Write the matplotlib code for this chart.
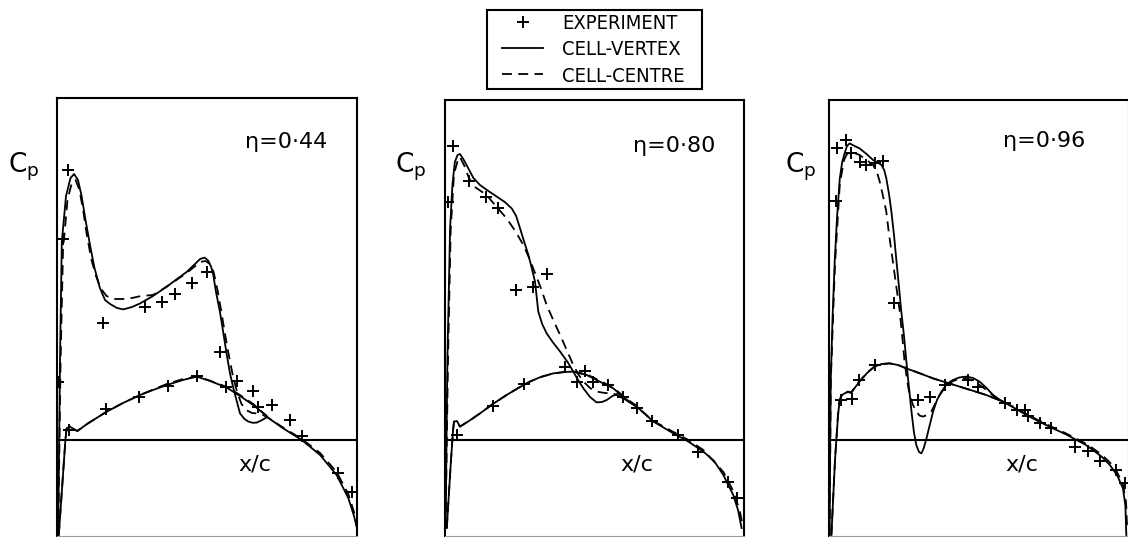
import matplotlib
matplotlib.use("Agg")
import matplotlib.pyplot as plt
from matplotlib import font_manager
from matplotlib.patches import Rectangle

# ---------------- data (x/c , -Cp) ----------------
etas = ["0·44", "0·80", "0·96"]

# eta = 0.44
p1_cv_up_x = [0.004, 0.010, 0.016, 0.030, 0.045, 0.057, 0.070, 0.082, 0.095, 0.110, 0.125, 0.143, 0.160, 0.177, 0.200, 0.221, 0.250, 0.277, 0.320, 0.366, 0.400, 0.432, 0.460, 0.477, 0.492, 0.504, 0.514, 0.521, 0.530, 0.543, 0.555, 0.566, 0.577, 0.588, 0.600, 0.610, 0.625, 0.638, 0.652, 0.666, 0.680, 0.693, 0.700, 0.754, 0.816, 0.877, 0.932, 0.971, 0.990, 1.000]
p1_cv_up_y = [-0.475, 0.40, 0.99, 1.22, 1.31, 1.33, 1.30, 1.22, 1.10, 0.975, 0.86, 0.76, 0.70, 0.68, 0.66, 0.653, 0.665, 0.683, 0.72, 0.767, 0.805, 0.84, 0.88, 0.905, 0.912, 0.897, 0.865, 0.825, 0.74, 0.642, 0.53, 0.425, 0.33, 0.258, 0.19, 0.133, 0.105, 0.092, 0.086, 0.087, 0.097, 0.108, 0.115, 0.058, 0.0, -0.075, -0.175, -0.29, -0.38, -0.44]
p1_cv_lo_x = [0.006, 0.028, 0.032, 0.043, 0.055, 0.068, 0.100, 0.166, 0.220, 0.277, 0.320, 0.366, 0.420, 0.466, 0.510, 0.566, 0.610, 0.654, 0.699]
p1_cv_lo_y = [-0.475, 0.0, 0.058, 0.067, 0.055, 0.045, 0.08, 0.142, 0.185, 0.225, 0.25, 0.275, 0.30, 0.317, 0.295, 0.262, 0.22, 0.175, 0.12]
p1_cc_up_x = [0.004, 0.012, 0.020, 0.035, 0.050, 0.062, 0.075, 0.088, 0.100, 0.115, 0.130, 0.145, 0.165, 0.190, 0.220, 0.250, 0.280, 0.320, 0.366, 0.432, 0.477, 0.495, 0.510, 0.522, 0.535, 0.548, 0.560, 0.572, 0.585, 0.600, 0.615, 0.630, 0.650, 0.666, 0.680, 0.693, 0.700, 0.754, 0.816, 0.877, 0.932, 0.971, 0.990, 1.000]
p1_cc_up_y = [-0.475, 0.40, 0.95, 1.20, 1.29, 1.30, 1.25, 1.14, 1.02, 0.90, 0.82, 0.76, 0.72, 0.705, 0.705, 0.71, 0.72, 0.725, 0.767, 0.835, 0.89, 0.895, 0.88, 0.84, 0.75, 0.64, 0.53, 0.43, 0.33, 0.24, 0.18, 0.15, 0.135, 0.133, 0.13, 0.12, 0.115, 0.062, 0.005, -0.065, -0.16, -0.27, -0.36, -0.44]
p1_cc_lo_x = [0.006, 0.028, 0.032, 0.043, 0.055, 0.068, 0.100, 0.166, 0.220, 0.277, 0.320, 0.366, 0.420, 0.466, 0.510, 0.566, 0.610, 0.654, 0.699]
p1_cc_lo_y = [-0.475, 0.0, 0.058, 0.067, 0.055, 0.045, 0.08, 0.142, 0.185, 0.225, 0.252, 0.28, 0.305, 0.317, 0.297, 0.265, 0.225, 0.18, 0.12]
p1_exp_up_x = [0.021, 0.038, 0.154, 0.293, 0.349, 0.393, 0.451, 0.499, 0.543, 0.599, 0.654, 0.716, 0.777, 0.816, 0.938, 0.982]
p1_exp_up_y = [1.005, 1.35, 0.583, 0.667, 0.688, 0.73, 0.783, 0.842, 0.442, 0.295, 0.247, 0.175, 0.10, 0.022, -0.167, -0.262]
p1_exp_lo_x = [0.004, 0.041, 0.163, 0.274, 0.371, 0.466, 0.563, 0.671]
p1_exp_lo_y = [0.288, 0.05, 0.155, 0.217, 0.27, 0.32, 0.267, 0.167]

# eta = 0.80
p2_cv_up_x = [0.002, 0.008, 0.017, 0.025, 0.033, 0.042, 0.050, 0.063, 0.078, 0.095, 0.117, 0.145, 0.173, 0.200, 0.223, 0.238, 0.251, 0.265, 0.279, 0.290, 0.301, 0.307, 0.312, 0.325, 0.340, 0.360, 0.385, 0.410, 0.429, 0.445, 0.463, 0.485, 0.507, 0.525, 0.541, 0.560, 0.580, 0.600, 0.641, 0.697, 0.764, 0.814, 0.864, 0.900, 0.931, 0.964, 0.980, 0.992]
p2_cv_up_y = [-0.44, 0.40, 1.06, 1.28, 1.39, 1.425, 1.43, 1.40, 1.358, 1.31, 1.275, 1.245, 1.217, 1.19, 1.158, 1.12, 1.058, 0.99, 0.925, 0.86, 0.792, 0.71, 0.642, 0.58, 0.533, 0.49, 0.442, 0.39, 0.342, 0.30, 0.258, 0.215, 0.188, 0.19, 0.20, 0.22, 0.233, 0.205, 0.167, 0.092, 0.033, -0.008, -0.058, -0.105, -0.175, -0.275, -0.35, -0.44]
p2_cv_lo_x = [0.006, 0.020, 0.027, 0.030, 0.040, 0.050, 0.080, 0.117, 0.160, 0.206, 0.245, 0.284, 0.320, 0.362, 0.400, 0.429, 0.474, 0.520, 0.563, 0.600, 0.641]
p2_cv_lo_y = [-0.44, -0.10, 0.05, 0.092, 0.095, 0.067, 0.095, 0.133, 0.18, 0.225, 0.26, 0.292, 0.315, 0.333, 0.34, 0.342, 0.325, 0.29, 0.258, 0.21, 0.167]
p2_cc_up_x = [0.002, 0.010, 0.019, 0.030, 0.045, 0.050, 0.065, 0.080, 0.100, 0.139, 0.170, 0.206, 0.235, 0.262, 0.280, 0.295, 0.318, 0.340, 0.362, 0.385, 0.410, 0.429, 0.445, 0.463, 0.485, 0.507, 0.535, 0.563, 0.600, 0.641, 0.697, 0.764, 0.814, 0.864, 0.931, 0.964, 0.985, 0.995]
p2_cc_up_y = [-0.44, 0.40, 1.05, 1.33, 1.41, 1.415, 1.37, 1.31, 1.265, 1.225, 1.17, 1.108, 1.045, 0.975, 0.915, 0.858, 0.77, 0.675, 0.60, 0.525, 0.44, 0.375, 0.33, 0.292, 0.26, 0.242, 0.235, 0.233, 0.205, 0.167, 0.095, 0.04, 0.0, -0.05, -0.16, -0.255, -0.35, -0.42]
p2_cc_lo_x = p2_cv_lo_x
p2_cc_lo_y = [-0.44, -0.10, 0.05, 0.092, 0.095, 0.067, 0.095, 0.133, 0.18, 0.225, 0.26, 0.292, 0.315, 0.333, 0.34, 0.342, 0.328, 0.295, 0.262, 0.215, 0.17]
p2_exp_up_x = [0.011, 0.026, 0.081, 0.137, 0.178, 0.237, 0.295, 0.340, 0.440, 0.496, 0.546, 0.596, 0.641, 0.691, 0.780, 0.847, 0.947, 0.975]
p2_exp_up_y = [1.188, 1.47, 1.295, 1.217, 1.158, 0.75, 0.767, 0.828, 0.292, 0.292, 0.275, 0.217, 0.158, 0.095, 0.025, -0.062, -0.208, -0.292]
p2_exp_lo_x = [0.041, 0.161, 0.264, 0.401, 0.468]
p2_exp_lo_y = [0.025, 0.172, 0.278, 0.367, 0.345]

# eta = 0.96
p3_cv_up_x = [0.002, 0.004, 0.006, 0.012, 0.019, 0.027, 0.036, 0.044, 0.052, 0.060, 0.069, 0.085, 0.102, 0.125, 0.147, 0.165, 0.175, 0.184, 0.191, 0.200, 0.208, 0.217, 0.225, 0.233, 0.241, 0.250, 0.258, 0.266, 0.275, 0.283, 0.291, 0.300, 0.308, 0.316, 0.325, 0.335, 0.347, 0.360, 0.375, 0.393, 0.413, 0.435, 0.458, 0.480, 0.502, 0.525, 0.547, 0.565, 0.580, 0.620, 0.658, 0.700, 0.747, 0.790, 0.825, 0.853, 0.880, 0.910, 0.936, 0.960, 0.980, 0.988, 0.991]
p3_cv_up_y = [-0.475, 0.0, 0.308, 0.62, 0.892, 1.12, 1.308, 1.39, 1.433, 1.47, 1.483, 1.47, 1.458, 1.43, 1.40, 1.385, 1.375, 1.35, 1.308, 1.23, 1.142, 1.02, 0.892, 0.77, 0.642, 0.52, 0.392, 0.27, 0.142, 0.04, -0.025, -0.06, -0.067, -0.04, 0.008, 0.07, 0.142, 0.20, 0.242, 0.28, 0.30, 0.313, 0.317, 0.31, 0.292, 0.26, 0.225, 0.205, 0.192, 0.158, 0.125, 0.092, 0.058, 0.028, 0.0, -0.022, -0.05, -0.085, -0.125, -0.175, -0.242, -0.33, -0.475]
p3_cv_lo_x = [0.008, 0.020, 0.030, 0.035, 0.043, 0.052, 0.063, 0.074, 0.088, 0.102, 0.127, 0.152, 0.175, 0.202, 0.230, 0.258, 0.300, 0.347, 0.390, 0.435, 0.480, 0.524, 0.580]
p3_cv_lo_y = [-0.475, -0.10, 0.12, 0.192, 0.225, 0.233, 0.24, 0.235, 0.265, 0.292, 0.335, 0.367, 0.38, 0.383, 0.375, 0.358, 0.335, 0.308, 0.288, 0.267, 0.246, 0.225, 0.192]
p3_cc_up_x = [0.002, 0.006, 0.020, 0.036, 0.050, 0.060, 0.075, 0.102, 0.125, 0.147, 0.160, 0.169, 0.180, 0.191, 0.200, 0.213, 0.225, 0.236, 0.244, 0.252, 0.260, 0.269, 0.280, 0.291, 0.302, 0.313, 0.327, 0.341, 0.355, 0.369, 0.390, 0.413, 0.435, 0.458, 0.480, 0.502, 0.525, 0.547, 0.565, 0.580, 0.620, 0.658, 0.700, 0.747, 0.790, 0.825, 0.853, 0.880, 0.910, 0.936, 0.960, 0.980, 0.990, 0.994]
p3_cc_up_y = [-0.475, 0.30, 0.88, 1.28, 1.40, 1.43, 1.44, 1.425, 1.40, 1.375, 1.34, 1.292, 1.22, 1.142, 1.03, 0.892, 0.76, 0.642, 0.52, 0.392, 0.30, 0.225, 0.175, 0.142, 0.122, 0.117, 0.125, 0.142, 0.185, 0.225, 0.27, 0.295, 0.305, 0.31, 0.295, 0.275, 0.25, 0.222, 0.205, 0.192, 0.162, 0.13, 0.097, 0.063, 0.033, 0.006, -0.016, -0.042, -0.075, -0.112, -0.16, -0.225, -0.31, -0.45]
p3_cc_lo_x = p3_cv_lo_x
p3_cc_lo_y = [-0.475, -0.10, 0.13, 0.20, 0.228, 0.236, 0.242, 0.238, 0.268, 0.295, 0.337, 0.368, 0.38, 0.383, 0.375, 0.358, 0.335, 0.308, 0.288, 0.267, 0.246, 0.225, 0.192]
p3_exp_up_x = [0.022, 0.028, 0.056, 0.074, 0.102, 0.124, 0.152, 0.180, 0.217, 0.297, 0.336, 0.386, 0.464, 0.497, 0.586, 0.625, 0.653, 0.664, 0.702, 0.741, 0.819, 0.864, 0.902, 0.958, 0.986]
p3_exp_up_y = [1.195, 1.462, 1.50, 1.433, 1.392, 1.375, 1.383, 1.395, 0.683, 0.20, 0.217, 0.275, 0.30, 0.267, 0.183, 0.15, 0.15, 0.122, 0.083, 0.062, -0.033, -0.055, -0.105, -0.15, -0.217]
p3_exp_lo_x = [0.041, 0.078, 0.100, 0.152]
p3_exp_lo_y = [0.20, 0.205, 0.30, 0.375]

legend_labels = ["EXPERIMENT", "CELL-VERTEX", "CELL-CENTRE"]

# ---------------- layout ----------------
W, H = 1128, 537
fig = plt.figure(figsize=(W / 100, H / 100), dpi=100)

names = {f.name for f in font_manager.fontManager.ttflist}
if "Liberation Sans Narrow" in names:
    narrow = dict(family="Liberation Sans Narrow")
else:
    narrow = dict(family="DejaVu Sans", stretch="condensed")


def fx(x):
    return x / W


def fy(y):
    return 1 - y / H


boxes = [(57, 98, 357, 536), (445, 100, 744, 536), (829, 100, 1129, 536)]
BASE = 440.0
SCALE = 200.0

panels = [
    (p1_cv_up_x, p1_cv_up_y, p1_cv_lo_x, p1_cv_lo_y, p1_cc_up_x, p1_cc_up_y, p1_cc_lo_x, p1_cc_lo_y,
     p1_exp_up_x + p1_exp_lo_x, p1_exp_up_y + p1_exp_lo_y),
    (p2_cv_up_x, p2_cv_up_y, p2_cv_lo_x, p2_cv_lo_y, p2_cc_up_x, p2_cc_up_y, p2_cc_lo_x, p2_cc_lo_y,
     p2_exp_up_x + p2_exp_lo_x, p2_exp_up_y + p2_exp_lo_y),
    (p3_cv_up_x, p3_cv_up_y, p3_cv_lo_x, p3_cv_lo_y, p3_cc_up_x, p3_cc_up_y, p3_cc_lo_x, p3_cc_lo_y,
     p3_exp_up_x + p3_exp_lo_x, p3_exp_up_y + p3_exp_lo_y),
]

eta_pos = [(245, 148), (633, 152), (1003, 147)]
cp_pos = [(8, 183), (395, 183), (785, 183)]
xc_pos = [(238, 470), (620, 470), (1005, 470)]

LW = 1.3
DASH = (0, (5.5, 3.5))
handles = None
for i, (l, t, r, b) in enumerate(boxes):
    ax = fig.add_axes([fx(l), fy(b), (r - l) / W, (b - t) / H])
    ax.set_xlim(0, 1)
    ax.set_ylim((BASE - b) / SCALE, (BASE - t) / SCALE)
    ax.set_xticks([])
    ax.set_yticks([])
    for s in ("left", "top", "right"):
        ax.spines[s].set_linewidth(1.5)
    ax.spines["bottom"].set_linewidth(0.8)
    ax.spines["bottom"].set_color("0.6")
    cvux, cvuy, cvlx, cvly, ccux, ccuy, cclx, ccly, ex, ey = panels[i]
    ax.axhline(0, color="black", lw=1.5)
    h1, = ax.plot(cvux, cvuy, color="black", lw=LW)
    ax.plot(cvlx, cvly, color="black", lw=LW)
    h2, = ax.plot(ccux, ccuy, color="black", lw=LW, ls=DASH)
    ax.plot(cclx, ccly, color="black", lw=LW, ls=DASH)
    h0, = ax.plot(ex, ey, ls="none", marker="+", color="black", ms=8, mew=1.4)
    if handles is None:
        handles = [h0, h1, h2]

    ex_, ey_ = eta_pos[i]
    fig.text(fx(ex_), fy(ey_), "η=" + etas[i], fontsize=16, ha="left", va="baseline",
             family="DejaVu Sans")
    cx, cy = cp_pos[i]
    fig.text(fx(cx), fy(cy), r"$\mathregular{C_p}$", fontsize=19, ha="left", va="bottom",
             family="DejaVu Sans")
    xx, xy = xc_pos[i]
    fig.text(fx(xx), fy(xy), "x/c", fontsize=16, ha="left", va="baseline", family="DejaVu Sans")

# legend frame (drawn separately for exact placement)
fig.patches.append(Rectangle((fx(487), fy(89)), (702 - 487) / W, (89 - 10) / H,
                             transform=fig.transFigure, fill=False, edgecolor="black",
                             linewidth=1.5))
leg = fig.legend(handles, legend_labels, loc="upper left",
                 bbox_to_anchor=(fx(502), fy(14)), bbox_transform=fig.transFigure,
                 prop=font_manager.FontProperties(size=14.5, **narrow),
                 frameon=False, handlelength=2.05, handletextpad=0.95, borderpad=0.0,
                 labelspacing=0.36, borderaxespad=0)

fig.savefig("out.png", dpi=100)
